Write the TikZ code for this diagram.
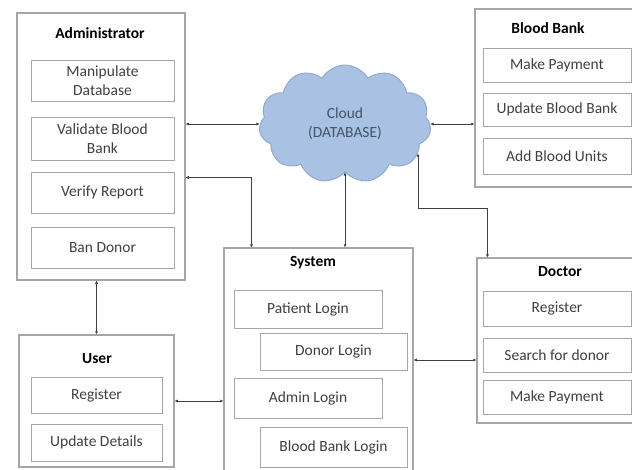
\documentclass[tikz,border=0pt]{standalone}
\usepackage{fontspec}
\setmainfont{Carlito}
\usetikzlibrary{arrows.meta,shapes.symbols}
\definecolor{boxline}{HTML}{A6A6A6}
\definecolor{txtgray}{HTML}{3F3F3F}
\definecolor{linkgray}{HTML}{404040}
\definecolor{cloudfill}{HTML}{A9C1E3}
\definecolor{cloudline}{HTML}{8EA6CB}
\definecolor{cloudtxt}{HTML}{44546A}
\begin{document}
\begin{tikzpicture}[
        x=1pt, y=-1pt,
        font=\fontsize{15.5}{19}\selectfont,
        group/.style={rectangle, draw=boxline, line width=1.1pt, inner sep=0pt},
        title/.style={text=black, font=\fontsize{15.5}{19}\selectfont\bfseries},
        item/.style={rectangle, draw=boxline, line width=0.9pt, inner sep=0pt, align=center, text=txtgray},
        db/.style={cloud, cloud puffs=11, cloud puff arc=120, cloud ignores aspect, draw=cloudline, line width=0.9pt, fill=cloudfill, text=cloudtxt, align=center, inner sep=0pt},
        link/.style={draw=linkgray, line width=0.9pt, {Latex[length=3.2pt,width=3.2pt]}-{Latex[length=3.2pt,width=3.2pt]}}
    ]
        \useasboundingbox (0,0) rectangle (632,469);

        % Administrator
        \node (admin) [group, minimum width=168pt, minimum height=267pt] at (101,146.5) {};
        \node (admintitle) [title] at (100,33) {Administrator};
        \node (manip) [item, minimum width=143pt, minimum height=41pt] at (102.5,80.5) {Manipulate\\Database};
        \node (validate) [item, minimum width=143pt, minimum height=43pt] at (102.5,138.5) {Validate Blood\\Bank};
        \node (verify) [item, minimum width=143pt, minimum height=41pt] at (102.5,192.5) {Verify Report};
        \node (ban) [item, minimum width=143pt, minimum height=41pt] at (102.5,247.5) {Ban Donor};

        % Cloud
        \node (cloud) [db, minimum width=172pt, minimum height=118pt] at (345,124) {Cloud\\(DATABASE)};

        % Blood Bank
        \node (bank) [group, minimum width=163pt, minimum height=178pt] at (556.5,98) {};
        \node (banktitle) [title] at (548,28) {Blood Bank};
        \node (bpay) [item, minimum width=148pt, minimum height=34pt] at (557,65) {Make Payment};
        \node (bupdate) [item, minimum width=148pt, minimum height=33pt] at (557,109.5) {Update Blood Bank};
        \node (bunits) [item, minimum width=148pt, minimum height=36pt] at (557,156) {Add Blood Units};

        % System
        \node (system) [group, minimum width=189pt, minimum height=224pt] at (318.5,360) {};
        \node (systitle) [title] at (313,263) {System};
        \node (patient) [item, minimum width=148pt, minimum height=38pt] at (308,309) {Patient Login};
        \node (donor) [item, minimum width=147pt, minimum height=37pt] at (333.5,351.5) {Donor Login};
        \node (adminlog) [item, minimum width=148pt, minimum height=40pt] at (308,398) {Admin Login};
        \node (banklog) [item, minimum width=147pt, minimum height=40pt] at (333.5,447) {Blood Bank Login};

        % Doctor
        \node (doctor) [group, minimum width=161pt, minimum height=165pt] at (557.5,340.5) {};
        \node (doctitle) [title] at (560,272) {Doctor};
        \node (dreg) [item, minimum width=148pt, minimum height=35pt] at (557,308.5) {Register};
        \node (dsearch) [item, minimum width=148pt, minimum height=34pt] at (557,355) {Search for donor};
        \node (dpay) [item, minimum width=148pt, minimum height=34pt] at (557,397) {Make Payment};

        % User
        \node (user) [group, minimum width=155pt, minimum height=132pt] at (96.5,401) {};
        \node (usertitle) [title] at (97,359) {User};
        \node (ureg) [item, minimum width=131pt, minimum height=36pt] at (96.5,395) {Register};
        \node (uupdate) [item, minimum width=131pt, minimum height=37pt] at (96.5,442.5) {Update Details};

        % connectors
        \draw [link] (cloud.west) -- (cloud.west -| admin.east);
        \draw [link] ([yshift=-31pt]admin.east) -| ([xshift=28pt]system.north west);
        \draw [link] (cloud.south) -- (cloud.south |- system.north);
        \draw [link] (cloud.east) -- (cloud.east -| bank.west);
        \draw [link] (cloud.-22) -- ++(0,55) -| ([xshift=11pt]doctor.north west);
        \draw [link] (system.east) -- (system.east -| doctor.west);
        \draw [link] (user.east) -- (user.east -| system.west);
        \draw [link] (admin.south -| user.north) -- (user.north);
    \end{tikzpicture}
\end{document}
